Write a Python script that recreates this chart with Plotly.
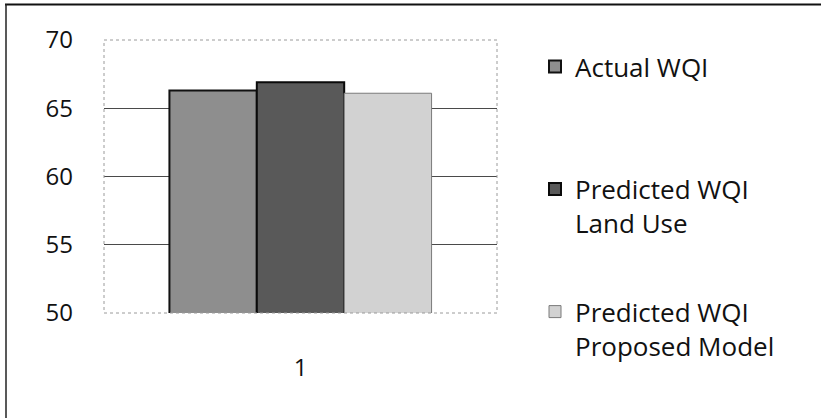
import plotly.graph_objects as go

# Water quality index comparison for one sample
categories = ["1"]
series_names = ["Actual WQI", "Predicted WQI<br>Land Use", "Predicted WQI<br>Proposed Model"]
actual_wqi = [66.3]
predicted_land_use = [66.9]
predicted_proposed = [66.1]

y_ticks = [50, 55, 60, 65, 70]

W, H = 821, 418
ML, MR, MT, MB = 104, 324, 40, 105
PW, PH = W - ML - MR, H - MT - MB


def px_to_paper_x(px):
    return (px - ML) / PW


def px_to_paper_y(py):
    return (H - MB - py) / PH


FONT = "'Open Sans', Lato, sans-serif"

fig = go.Figure()
styles = [
    ("#8e8e8e", "#111111", 2.0),
    ("#595959", "#0a0a0a", 2.0),
    ("#d2d2d2", "#7a7a7a", 1.0),
]
values = [actual_wqi, predicted_land_use, predicted_proposed]
for i, (name, vals, (fill, edge, lw)) in enumerate(zip(series_names, values, styles)):
    label = name if "<br>" in name else name + "<br> "
    fig.add_trace(go.Bar(
        x=categories, y=vals, name=label,
        legendgroup=f"g{i}",
        marker=dict(color=fill, line=dict(color=edge, width=lw)),
    ))

fig.update_layout(
    width=W, height=H,
    margin=dict(l=ML, r=MR, t=MT, b=MB),
    paper_bgcolor="white", plot_bgcolor="white",
    barmode="group", bargap=0.333, bargroupgap=0,
    font=dict(family=FONT, size=24, color="#111111"),
    showlegend=True,
    legend=dict(
        xref="container", yref="container",
        x=535 / W, xanchor="left",
        y=1 - 43 / H, yanchor="top",
        font=dict(family=FONT, size=26, color="#111111"),
        tracegroupgap=52, valign="top",
        maxheight=400,
        bgcolor="rgba(0,0,0,0)",
    ),
    xaxis=dict(
        type="category", showgrid=False, showline=False, zeroline=False,
        ticks="", ticklabelstandoff=38,
        tickfont=dict(family=FONT, size=24, color="#111111"),
    ),
    yaxis=dict(
        range=[50, 70], tickvals=y_ticks, showline=False, zeroline=False,
        gridcolor="#4a4a4a", gridwidth=1, ticks="", ticklabelstandoff=30,
        tickfont=dict(family=FONT, size=24, color="#111111"),
    ),
)

# Light dotted frame around the plotting area
fig.add_shape(type="rect", xref="paper", yref="paper", x0=0, x1=1, y0=0, y1=1,
              line=dict(color="#9a9a9a", width=1, dash="dot"), layer="above")
# Outer chart frame (top and left edges)
fig.add_shape(type="line", xref="paper", yref="paper",
              x0=px_to_paper_x(5), x1=px_to_paper_x(W), y0=px_to_paper_y(4.5), y1=px_to_paper_y(4.5),
              line=dict(color="#111111", width=2))
fig.add_shape(type="line", xref="paper", yref="paper",
              x0=px_to_paper_x(6), x1=px_to_paper_x(6), y0=px_to_paper_y(4), y1=px_to_paper_y(H),
              line=dict(color="#222222", width=1.5))

fig.write_html("out.html")
